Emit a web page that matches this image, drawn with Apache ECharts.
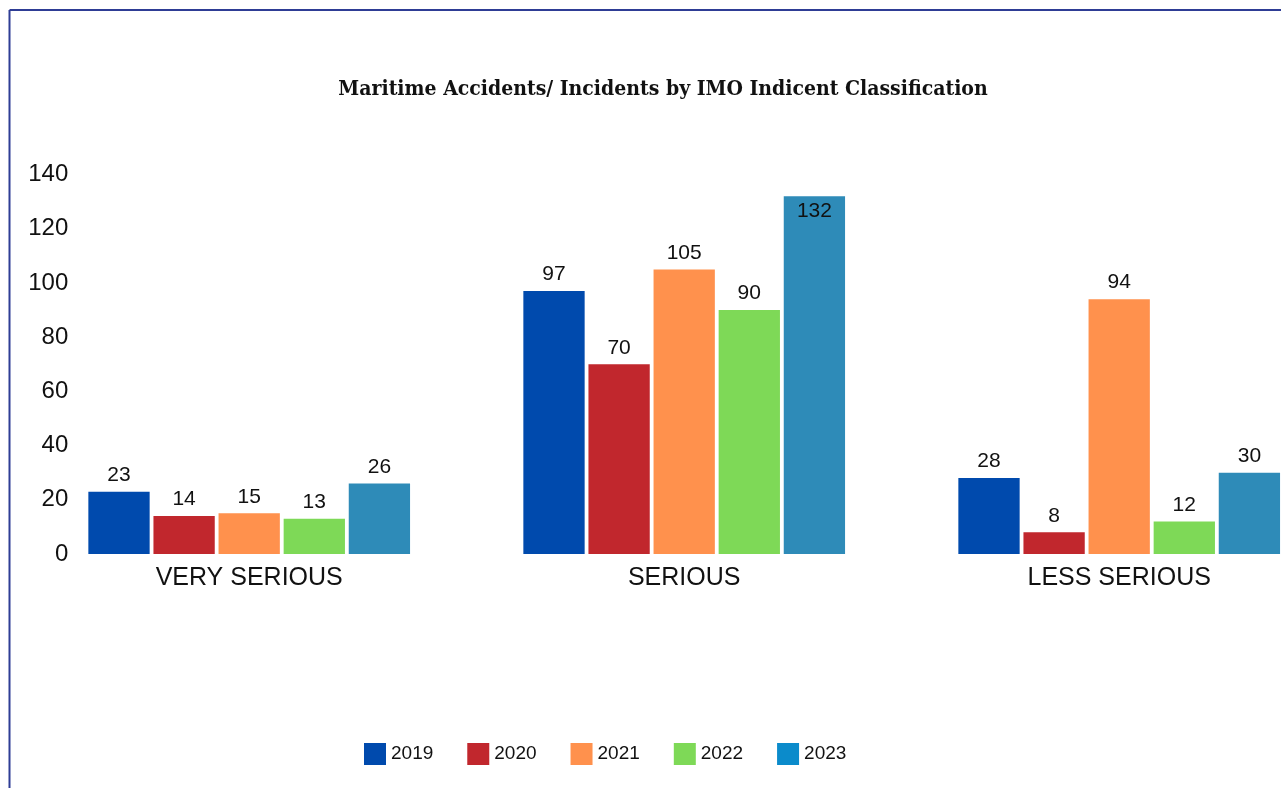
<!DOCTYPE html>
<html>
<head>
<meta charset="utf-8">
<script src="https://cdn.jsdelivr.net/npm/echarts@6/dist/echarts.min.js"></script>
<style>
  html, body { margin: 0; padding: 0; background: #fff; overflow: hidden; }
  /* the plot runs past the right edge in the original, so the canvas is wider than the window */
  #chart { width: 1340px; height: 788px; }
</style>
</head>
<body>
<div id="chart"></div>
<script>
// categories and yearly counts
const categories = ['VERY SERIOUS', 'SERIOUS', 'LESS SERIOUS'];
const years = ['2019', '2020', '2021', '2022', '2023'];
const v2019 = [23, 97, 28];
const v2020 = [14, 70, 8];
const v2021 = [15, 105, 94];
const v2022 = [13, 90, 12];
const v2023 = [26, 132, 30];
const yTicks = [0, 20, 40, 60, 80, 100, 120, 140];

const barColors = ['#004aad', '#c1272d', '#ff914d', '#7ed957', '#2e8bb8'];
const legendColors = ['#004aad', '#c1272d', '#ff914d', '#7ed957', '#0b8bcb'];
const allValues = [v2019, v2020, v2021, v2022, v2023];

const myChart = echarts.init(document.getElementById('chart'));

const series = years.map((y, i) => ({
  name: y,
  type: 'bar',
  barWidth: 61.3,
  barGap: '6.2%',
  itemStyle: { color: barColors[i] },
  label: {
    show: true,
    position: 'top',
    distance: 6,
    fontFamily: 'Liberation Sans, Arial, sans-serif',
    fontSize: 21,
    color: '#111'
  },
  // the tallest bar keeps its label inside, like the original
  data: allValues[i].map(v => v >= 130
    ? { value: v, label: { position: 'insideTop', distance: 5 } }
    : v)
}));

const options = {
  animation: false,
  title: {
    text: 'Maritime Accidents/ Incidents by IMO Indicent Classification',
    left: 658,
    textAlign: 'center',
    top: 74,
    textStyle: {
      fontFamily: 'DejaVu Serif Condensed, Liberation Serif, serif',
      fontWeight: 'bold',
      fontSize: 21,
      color: '#111'
    }
  },
  legend: {
    left: 359,
    top: 738,
    itemWidth: 22,
    itemHeight: 22,
    itemGap: 34,
    icon: 'rect',
    textStyle: {
      fontFamily: 'Liberation Sans, Arial, sans-serif',
      fontSize: 19,
      color: '#111'
    },
    data: years.map((y, i) => ({ name: y, itemStyle: { color: legendColors[i] } }))
  },
  grid: {
    left: 31.7,
    top: 174.5,
    width: 1305,
    height: 379.5
  },
  xAxis: {
    type: 'category',
    data: categories,
    axisLine: { show: false },
    axisTick: { show: false },
    axisLabel: {
      margin: 12,
      fontFamily: 'Liberation Sans, Arial, sans-serif',
      fontSize: 25,
      color: '#111'
    }
  },
  yAxis: {
    type: 'value',
    min: yTicks[0],
    max: yTicks[yTicks.length - 1],
    interval: 20,
    axisLine: { show: false },
    axisTick: { show: false },
    splitLine: { show: false },
    axisLabel: {
      margin: -36.6,
      align: 'right',
      fontFamily: 'Liberation Sans, Arial, sans-serif',
      fontSize: 24,
      color: '#111'
    }
  },
  graphic: [
    {
      type: 'line',
      shape: { x1: 9.5, y1: 10, x2: 9.5, y2: 788 },
      style: { stroke: '#2e3d95', lineWidth: 2 }
    },
    {
      type: 'line',
      shape: { x1: 9.5, y1: 10, x2: 1340, y2: 10 },
      style: { stroke: '#2e3d95', lineWidth: 2 }
    }
  ],
  series: series
};

myChart.setOption(options);
</script>
</body>
</html>
